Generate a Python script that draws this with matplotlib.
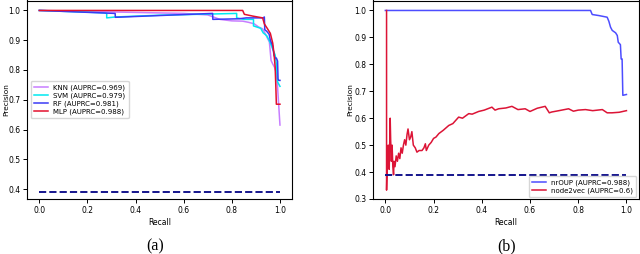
import matplotlib
matplotlib.use('Agg')
import matplotlib.pyplot as plt

# panel (a): classifier PR curves
knn_r = [0, 0.3, 0.6, 0.7, 0.75, 0.8, 0.845, 0.87, 0.893, 0.91, 0.928, 0.94, 0.956, 0.963, 0.97, 0.977, 0.985, 0.99, 1.0]
knn_p = [1.0, 0.995, 0.99, 0.985, 0.97, 0.965, 0.964, 0.96, 0.955, 0.945, 0.938, 0.92, 0.894, 0.832, 0.82, 0.81, 0.79, 0.743, 0.615]

svm_r = [0, 0.27, 0.28, 0.28, 0.315, 0.5, 0.82, 0.82, 0.85, 0.89, 0.89, 0.92, 0.93, 0.945, 0.955, 0.965, 0.975, 0.98, 0.985, 0.99, 1.0]
svm_p = [1.0, 0.992, 0.99, 0.975, 0.978, 0.984, 0.99, 0.975, 0.97, 0.97, 0.948, 0.94, 0.925, 0.915, 0.9, 0.88, 0.86, 0.85, 0.82, 0.76, 0.745]

rf_r = [0, 0.315, 0.316, 0.72, 0.721, 0.83, 0.86, 0.93, 0.935, 0.937, 0.945, 0.955, 0.96, 0.97, 0.975, 0.98, 0.985, 0.99, 0.992, 0.995, 1.0]
rf_p = [1.0, 0.99, 0.977, 0.99, 0.97, 0.972, 0.975, 0.975, 0.978, 0.935, 0.93, 0.92, 0.9, 0.88, 0.85, 0.84, 0.84, 0.83, 0.77, 0.765, 0.765]

mlp_r = [0, 0.845, 0.852, 0.887, 0.928, 0.935, 0.947, 0.96, 0.97, 0.975, 0.98, 0.983, 0.985, 1.0]
mlp_p = [1.0, 1.0, 0.987, 0.981, 0.975, 0.955, 0.94, 0.923, 0.89, 0.856, 0.81, 0.74, 0.685, 0.685]

# panel (b): embedding comparison
nroup_r = [0, 0.851, 0.858, 0.886, 0.92, 0.927, 0.934, 0.941, 0.955, 0.962, 0.966, 0.975, 0.978, 0.982, 0.985, 1.0]
nroup_p = [1.0, 1.0, 0.985, 0.981, 0.975, 0.96, 0.938, 0.926, 0.917, 0.907, 0.882, 0.873, 0.82, 0.82, 0.685, 0.688]

n2v_r = [0.005, 0.005, 0.008, 0.012, 0.016, 0.02, 0.022, 0.025, 0.028, 0.031, 0.034, 0.036, 0.04, 0.045, 0.05,
         0.055, 0.06, 0.065, 0.07, 0.075, 0.08, 0.085, 0.09, 0.094, 0.1, 0.105, 0.11, 0.116, 0.124, 0.131,
         0.14, 0.152, 0.16, 0.166, 0.17, 0.18, 0.19, 0.2, 0.21, 0.222, 0.24, 0.263, 0.28, 0.304, 0.32,
         0.346, 0.36, 0.387, 0.41, 0.442, 0.455, 0.47, 0.5, 0.525, 0.55, 0.58, 0.6, 0.63, 0.663, 0.68,
         0.69, 0.72, 0.76, 0.78, 0.8, 0.83, 0.86, 0.9, 0.92, 0.94, 0.97, 1.0]
n2v_p = [1.0, 0.333, 0.45, 0.5, 0.41, 0.6, 0.52, 0.44, 0.5, 0.42, 0.39, 0.44, 0.42, 0.46, 0.44,
         0.47, 0.45, 0.49, 0.47, 0.5, 0.52, 0.5, 0.54, 0.56, 0.52, 0.53, 0.55, 0.5, 0.49, 0.474,
         0.48, 0.48, 0.49, 0.505, 0.48, 0.5, 0.51, 0.525, 0.53, 0.543, 0.555, 0.573, 0.58, 0.604, 0.6,
         0.617, 0.615, 0.625, 0.63, 0.641, 0.63, 0.635, 0.638, 0.644, 0.632, 0.635, 0.625, 0.637, 0.644, 0.62,
         0.623, 0.628, 0.635, 0.626, 0.63, 0.632, 0.628, 0.632, 0.62, 0.62, 0.622, 0.628]

baseline = 0.39
base_r = [0, 1]

fig = plt.figure(figsize=(6.4, 2.54), dpi=100)
ax1 = fig.add_axes([27.3/640, 55/254, 264.7/640, 198.5/254])
ax2 = fig.add_axes([373.3/640, 55/254, 265.2/640, 198.5/254])

fs = 5.5
leg_kw = dict(fontsize=5, handlelength=2.0, borderpad=0.45, labelspacing=0.25, handletextpad=0.8)

ax1.plot(knn_r, knn_p, color='#c77dff', lw=1.1, label='KNN (AUPRC=0.969)')
ax1.plot(svm_r, svm_p, color='#00e8f0', lw=1.1, label='SVM (AUPRC=0.979)')
ax1.plot(rf_r, rf_p, color='#3a3af5', lw=1.1, label='RF (AUPRC=0.981)')
ax1.plot(mlp_r, mlp_p, color='#e3102e', lw=1.1, label='MLP (AUPRC=0.988)')
ax1.plot(base_r, [baseline, baseline], '--', color='#14148c', lw=1.4)
ax1.set_xlim(-0.05, 1.05)
ax1.set_ylim(0.3666, 1.0334)
ax1.set_yticks([0.4, 0.5, 0.6, 0.7, 0.8, 0.9, 1.0])
ax1.legend(loc='center left', **leg_kw)

ax2.plot(nroup_r, nroup_p, color='#4d4dff', lw=1.1, label='nrOUP (AUPRC=0.988)')
ax2.plot(n2v_r, n2v_p, color='#dc1436', lw=1.1, label='node2vec (AUPRC=0.6)')
ax2.plot(base_r, [baseline, baseline], '--', color='#14148c', lw=1.4)
ax2.set_xlim(-0.05, 1.05)
ax2.set_ylim(0.3, 1.037)
ax2.set_yticks([0.3, 0.4, 0.5, 0.6, 0.7, 0.8, 0.9, 1.0])
ax2.legend(loc='lower right', borderaxespad=0.3, **leg_kw)

for ax in (ax1, ax2):
    ax.set_xticks([0.0, 0.2, 0.4, 0.6, 0.8, 1.0])
    ax.tick_params(labelsize=fs, length=3, width=0.7, pad=2)
    ax.set_xlabel('Recall', fontsize=fs, labelpad=2)
    ax.set_ylabel('Precision', fontsize=5.3)
    for sp in ax.spines.values():
        sp.set_linewidth(0.8)

ax1.yaxis.set_label_coords(-0.0673, 0.5)
ax2.yaxis.set_label_coords(-0.077, 0.5)

fig.text(155/640, 8/254, '(a)', ha='center', va='center', fontsize=11.4, family='Liberation Serif')
fig.text(507/640, 8/254, '(b)', ha='center', va='center', fontsize=11.4, family='Liberation Serif')

fig.savefig('out.png', dpi=100)
